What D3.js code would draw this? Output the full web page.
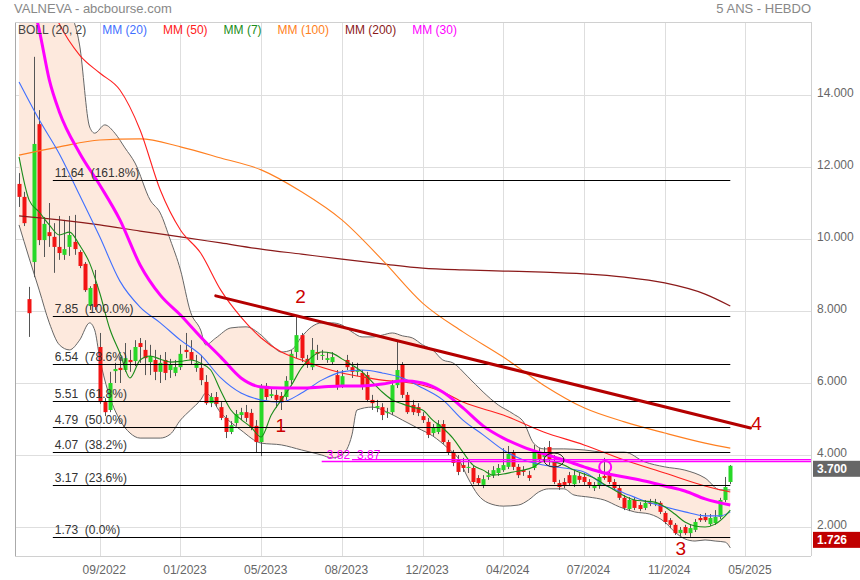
<!DOCTYPE html>
<html><head><meta charset="utf-8">
<script src="https://cdn.jsdelivr.net/npm/d3@7"></script>
<style>
body{margin:0;background:#fff;}
svg{display:block;font-family:"Liberation Sans",Arial,sans-serif;}
</style></head><body>
<svg id="c" width="860" height="580"></svg>
<script>
// ---------------- DATA (weekly candles, index 0..141) ----------------
const opens = [11.53,11.17,8.33,9.36,13.19,9.97,10.19,10.06,9.78,9.56,9.78,9.92,9.64,9.31,8.14,8.75,7.0,5.47,5.25,6.33,6.42,6.36,6.64,6.61,7.11,6.92,6.58,6.64,6.31,6.64,6.36,6.28,6.44,6.92,6.86,6.42,6.42,6.03,5.44,5.61,5.33,5.03,4.64,4.89,5.11,5.19,5.17,4.81,4.36,5.92,5.64,5.67,5.64,5.61,6.08,6.86,7.33,6.67,6.44,6.86,6.75,6.64,6.58,6.22,5.94,6.64,6.44,6.31,6.28,6.22,5.53,5.31,5.33,5.17,5.19,5.94,6.5,5.67,5.39,5.33,5.08,4.92,4.61,4.64,4.86,4.36,4.06,3.86,3.72,3.64,3.64,3.36,3.17,3.39,3.44,3.5,3.58,3.67,4.06,3.67,3.58,3.44,3.64,4.06,3.94,4.22,3.81,3.22,3.25,3.44,3.19,3.42,3.39,3.25,3.08,3.14,3.42,3.44,3.25,3.08,2.81,2.5,2.75,2.61,2.53,2.67,2.64,2.67,2.39,2.19,2.06,1.83,2.0,1.83,1.92,2.25,2.28,2.08,2.11,2.28,2.75,3.25];
const closes = [11.17,10.44,7.94,12.64,9.97,10.42,10.08,9.78,9.61,9.72,10.11,9.72,9.25,8.58,8.64,8.11,5.47,5.19,6.0,6.39,6.36,6.69,6.58,7.0,7.0,6.69,6.75,6.31,6.56,6.28,6.5,6.44,6.81,6.86,6.64,6.56,6.08,5.44,5.61,5.42,5.03,4.64,4.83,5.14,5.19,5.03,4.78,4.36,5.92,5.61,5.69,5.53,5.5,6.06,6.81,7.33,6.69,6.5,6.92,6.81,6.78,6.69,6.72,5.94,6.19,6.44,6.31,6.36,5.89,5.53,5.44,5.36,5.11,5.19,5.94,6.36,5.67,5.19,5.19,5.17,4.97,4.56,4.75,4.86,4.36,4.06,3.78,3.53,3.64,3.67,3.25,3.22,3.33,3.44,3.58,3.64,3.72,4.03,3.67,3.44,3.53,3.36,4.06,3.89,4.06,3.86,3.25,3.11,3.17,3.22,3.44,3.31,3.25,3.17,3.14,3.39,3.36,3.25,3.08,2.81,2.53,2.75,2.53,2.5,2.67,2.64,2.67,2.42,2.14,2.06,1.83,1.92,1.83,1.97,2.14,2.19,2.19,2.25,2.28,2.75,3.11,3.70];
const highs = [11.83,11.31,8.67,15.06,13.58,10.61,11.0,10.44,10.64,10.53,10.64,10.67,9.69,9.36,8.69,9.14,7.39,5.58,6.31,6.56,6.72,7.11,6.92,7.19,7.25,7.19,7.06,6.92,6.78,6.86,6.67,6.64,7.06,7.39,7.19,6.78,6.78,6.22,5.72,5.75,5.47,5.11,4.94,5.25,5.31,5.39,5.28,4.97,5.97,6.0,5.86,5.81,5.75,6.19,6.92,7.89,7.39,6.78,7.25,7.06,6.92,6.86,6.86,6.36,6.36,6.78,6.58,6.56,6.36,6.31,5.67,5.53,5.44,5.31,6.08,7.17,6.58,5.75,5.53,5.44,5.19,5.03,4.86,4.97,4.97,4.42,4.14,4.0,3.92,3.86,3.72,3.44,3.44,3.58,3.69,3.75,4.19,4.25,4.14,3.75,3.69,3.56,4.28,4.19,4.22,4.39,4.0,3.31,3.36,3.53,3.58,3.53,3.5,3.33,3.25,3.47,3.92,3.53,3.33,3.17,2.89,2.83,2.83,2.69,2.75,2.78,2.78,2.72,2.44,2.25,2.11,2.0,2.06,2.08,2.22,2.36,2.39,2.36,2.47,2.81,3.39,3.72];
const lows = [10.89,10.36,7.28,8.94,9.83,9.5,9.78,9.06,9.42,9.42,9.53,9.56,9.19,8.53,8.03,8.03,5.42,5.08,5.19,6.0,6.0,6.31,6.31,6.47,6.56,6.22,6.22,6.08,6.0,6.08,6.14,6.19,6.36,6.69,6.5,6.31,5.94,5.39,5.33,5.33,4.97,4.47,4.58,4.81,4.97,4.92,4.69,4.06,3.97,5.53,5.58,5.31,5.25,5.53,5.97,6.69,6.58,6.42,6.36,6.64,6.64,6.56,6.5,5.81,5.86,6.36,6.14,6.19,5.81,5.47,5.25,5.19,4.97,5.03,5.11,5.86,5.58,5.14,5.11,5.08,4.89,4.47,4.53,4.58,4.31,4.0,3.69,3.44,3.53,3.5,3.19,3.14,3.08,3.31,3.36,3.42,3.53,3.61,3.58,3.36,3.42,3.28,3.58,3.81,3.81,3.72,3.19,3.03,3.08,3.14,3.11,3.22,3.17,3.08,3.0,3.06,3.31,3.19,3.03,2.75,2.47,2.44,2.47,2.44,2.47,2.58,2.58,2.36,2.08,1.97,1.78,1.75,1.78,1.726,1.86,2.14,2.14,2.03,2.06,2.22,2.69,3.19];

// moving averages / bands (candle index, price)
const mm200Idx = [0,8,16,24,32,40,48,56,64,72,80,88,96,104,112,120,128,136,141];
const mm200Val = [10.64,10.53,10.39,10.22,10.06,9.89,9.72,9.58,9.44,9.31,9.19,9.14,9.11,9.08,9.03,8.94,8.78,8.47,8.14];
const mm100Idx = [0,8,16,24,32,40,48,56,64,72,80,88,96,104,112,120,128,136,141];
const mm100Val = [12.33,12.56,12.75,12.78,12.56,12.25,11.92,11.31,10.53,9.42,8.22,7.42,6.72,5.94,5.31,4.92,4.61,4.33,4.19];
const mm50Idx = [6,8,12,16,20,24,28,32,36,40,44,48,52,56,60,64,68,72,76,80,84,88,96,104,112,120,128,136,141];
const mm50Val = [16.6,15.97,15.11,14.61,14.14,13.03,11.36,10.25,9.61,8.58,7.83,7.25,6.86,6.64,6.44,6.28,6.17,6.08,6.03,5.94,5.75,5.47,5.11,4.64,4.28,3.86,3.5,3.14,2.97];
const mm30Idx = [3,4,6,8,12,16,20,24,28,32,36,40,44,48,52,56,60,64,68,72,76,80,84,88,92,96,100,104,108,112,116,120,124,128,132,136,141];
const mm30Val = [16.4,15.81,14.42,13.53,12.39,11.5,10.53,9.28,8.44,7.89,7.28,6.72,6.14,5.89,5.86,5.86,5.89,5.92,5.92,5.97,6.06,6.0,5.75,5.31,4.81,4.47,4.22,4.03,3.86,3.67,3.5,3.39,3.28,3.14,3.0,2.78,2.61];
const mm20Idx = [0,4,8,12,16,20,24,28,32,36,40,44,48,52,56,60,64,68,72,76,80,84,88,92,96,100,104,108,112,116,120,124,128,132,136,139,141];
const mm20Val = [14.36,13.31,12.36,11.22,10.06,8.83,8.11,7.67,7.19,6.78,6.14,5.72,5.53,5.47,5.72,6.08,6.31,6.36,6.28,6.14,5.86,5.53,4.97,4.56,4.14,3.86,3.72,3.64,3.53,3.17,2.94,2.72,2.56,2.42,2.31,2.31,2.42];
const mm7Idx = [0,2,4,6,8,10,12,14,16,18,20,22,24,26,28,30,32,34,36,38,40,42,44,46,48,50,52,54,56,58,60,62,64,66,68,70,72,74,76,78,80,82,84,86,88,90,92,94,96,98,100,102,104,106,108,110,112,114,116,118,120,122,124,126,128,130,132,134,136,138,140,141];
const mm7Val = [12.28,11.08,10.75,10.39,10.11,10.19,9.83,9.33,8.5,7.5,6.83,6.14,6.64,6.75,6.66,6.58,6.6,6.64,6.55,6.36,5.78,5.25,4.99,4.77,4.5,5.11,5.53,5.94,6.42,6.72,6.86,6.83,6.67,6.5,6.31,6.03,5.75,5.53,5.42,5.33,5.25,4.97,4.75,4.47,4.08,3.72,3.58,3.44,3.47,3.53,3.58,3.67,3.83,3.81,3.72,3.58,3.47,3.36,3.19,3.03,2.86,2.75,2.72,2.69,2.56,2.36,2.14,2.03,2.0,2.08,2.31,2.47];
const bbUpIdx = [0,6,10,12,14,15,17,19,21,23,26,28,30,32,34,36,37,39,42,45,48,50,52,54,56,58,60,62,64,66,68,70,72,74,76,78,80,82,84,86,89,92,95,98,100,102,104,108,112,116,120,124,128,132,136,139,141];
const bbUpVal = [18.0,17.5,16.4,15.39,13.11,12.94,13.17,12.94,12.53,12.11,11.08,10.72,9.97,9.14,7.97,7.47,7.06,7.25,7.53,7.56,7.33,7.06,6.86,6.92,7.28,7.56,7.67,7.67,7.61,7.42,7.28,7.28,7.33,7.39,7.31,7.25,7.06,6.92,6.64,6.56,6.17,5.75,5.39,5.14,4.92,4.33,4.17,4.17,4.14,4.08,4.08,3.81,3.67,3.58,3.36,3.03,3.03];
const bbLoIdx = [0,2,4,6,8,10,12,14,15,16,18,20,22,24,28,30,32,34,36,37,40,44,48,52,56,60,62,64,66,67,70,73,76,79,82,85,87,89,91,93,96,99,101,103,105,108,110,113,116,119,122,125,128,130,132,134,136,138,140,141];
const bbLoVal = [10.39,9.47,8.58,7.67,7.06,6.92,7.19,7.67,7.47,6.69,5.61,4.97,4.61,4.47,4.47,4.58,4.97,5.25,5.53,5.72,5.17,4.69,4.33,4.28,4.14,4.0,3.92,4.0,4.56,5.25,5.33,5.19,4.97,4.75,4.53,4.19,3.92,3.36,2.89,2.67,2.58,2.61,2.75,2.97,3.06,3.06,2.89,2.83,2.75,2.56,2.42,2.36,2.14,1.86,1.67,1.61,1.64,1.61,1.58,1.42];

// Fibonacci retracement levels
const fibLevels = [11.64,7.85,6.54,5.51,4.79,4.07,3.17,1.73];
const fibLabels = ["11.64  (161.8%)","7.85  (100.0%)","6.54  (78.6%)","5.51  (61.8%)","4.79  (50.0%)","4.07  (38.2%)","3.17  (23.6%)","1.73  (0.0%)"];
// trend line 2 -> 4
const trendIdx = [39,145];
const trendVal = [8.42,4.75];
// magenta horizontal levels
const levelVals = [3.82,3.87];
const levelFromIdx = [60,66];
const levelLabels = ["3.82","3.87"];
// wave annotations
const annotText = ["1","2","3","4"];
const annotIdx = [51.9,55.8,131.2,146.2];
const annotVal = [4.64,8.22,1.22,4.69];
// axes
const yTicks = [2,4,6,8,10,12,14];
const tickIdx = [16,32,48,64,80,96,112,128,144];
const tickLabels = ["09/2022","01/2023","05/2023","08/2023","12/2023","04/2024","07/2024","11/2024","05/2025"];
const lastPrice = 3.70;
const lowPrice = 1.726;
const legendNames = ["BOLL (20, 2)","MM (20)","MM (50)","MM (7)","MM (100)","MM (200)","MM (30)"];
const legendColors = ["#444444","#3f6fff","#ff2020","#1a8c1a","#ff7f20","#8b1a1a","#ff00ff"];

// ---------------- DRAWING ----------------
const L=15,R=811,T=22,B=556;
const x=d3.scaleLinear().domain([0,141]).range([19.04,730.3]);
const y=d3.scaleLinear().domain([2,14]).range([527,95]);
const svg=d3.select("#c");
const defs=svg.append("defs");
defs.append("clipPath").attr("id","plotClip").append("rect")
  .attr("x",L).attr("y",T).attr("width",R-L).attr("height",B-T);

svg.append("rect").attr("width",860).attr("height",580).attr("fill","#fff");

// grid
const grid=svg.append("g");
grid.selectAll(".gh").data(yTicks).enter().append("line")
  .attr("x1",L).attr("x2",R)
  .attr("y1",d=>Math.round(y(d))+0.5).attr("y2",d=>Math.round(y(d))+0.5)
  .attr("stroke","#dedede");
grid.selectAll(".gv").data(tickIdx).enter().append("line")
  .attr("y1",T).attr("y2",B)
  .attr("x1",d=>Math.round(x(d))+0.5).attr("x2",d=>Math.round(x(d))+0.5)
  .attr("stroke","#dedede");

const g=svg.append("g").attr("clip-path","url(#plotClip)");

// Bollinger fill
const upPts=bbUpIdx.map((d,i)=>[x(d),y(bbUpVal[i])]);
const loPts=bbLoIdx.map((d,i)=>[x(d),y(bbLoVal[i])]);
defs.append("clipPath").attr("id","aboveLower").append("path")
  .attr("d",d3.area().x(d=>d[0]).y0(0).y1(d=>d[1]).curve(d3.curveMonotoneX)(loPts));
g.append("path")
  .attr("d",d3.area().x(d=>d[0]).y0(d=>d[1]).y1(700).curve(d3.curveMonotoneX)(upPts))
  .attr("fill","#fde9dd").attr("clip-path","url(#aboveLower)");
const lineGen=d3.line().x(d=>d[0]).y(d=>d[1]).curve(d3.curveMonotoneX);
g.append("path").attr("d",lineGen(upPts)).attr("fill","none").attr("stroke","#666").attr("stroke-width",1);
g.append("path").attr("d",lineGen(loPts)).attr("fill","none").attr("stroke","#666").attr("stroke-width",1);

// candles
const candles=d3.range(opens.length).map(i=>({i,o:opens[i],c:closes[i],h:highs[i],l:lows[i]}));
g.selectAll(".wick").data(candles).enter().append("line")
  .attr("x1",d=>Math.round(x(d.i))+0.5).attr("x2",d=>Math.round(x(d.i))+0.5)
  .attr("y1",d=>y(Math.max(d.h,d.o,d.c))).attr("y2",d=>y(Math.min(d.l,d.o,d.c)))
  .attr("stroke","#555").attr("stroke-width",1);
g.selectAll(".body").data(candles).enter().append("rect")
  .attr("x",d=>Math.round(x(d.i))-1.5).attr("width",4)
  .attr("y",d=>y(Math.max(d.o,d.c)))
  .attr("height",d=>Math.max(1,Math.abs(y(d.o)-y(d.c))))
  .attr("fill",d=>d.c>=d.o?"#27d827":"#f21414");

// moving averages
function drawMA(idx,vals,color,w){
  const pts=idx.map((d,i)=>[x(d),y(vals[i])]);
  g.append("path").attr("d",lineGen(pts)).attr("fill","none")
   .attr("stroke",color).attr("stroke-width",w).attr("stroke-linejoin","round");
}
drawMA(mm200Idx,mm200Val,"#8b1a1a",1.2);
drawMA(mm100Idx,mm100Val,"#ff7f20",1.1);
drawMA(mm50Idx,mm50Val,"#ff2020",1.1);
drawMA(mm20Idx,mm20Val,"#3f6fff",1.1);
drawMA(mm7Idx,mm7Val,"#1a8c1a",1.1);
drawMA(mm30Idx,mm30Val,"#ff00ff",3);

// Fibonacci lines
const fib=g.append("g");
fib.selectAll("line").data(fibLevels).enter().append("line")
  .attr("x1",x(6.7)).attr("x2",x(141))
  .attr("y1",d=>Math.round(y(d))+0.5).attr("y2",d=>Math.round(y(d))+0.5)
  .attr("stroke","#000").attr("stroke-width",1);
fib.selectAll("text").data(fibLevels).enter().append("text")
  .attr("x",x(7.1)).attr("y",d=>y(d)-3)
  .style("white-space","pre").attr("font-size",12).attr("fill","#333")
  .text((d,i)=>fibLabels[i]);

// trend line
g.append("line")
  .attr("x1",x(trendIdx[0])).attr("y1",y(trendVal[0]))
  .attr("x2",x(trendIdx[1])).attr("y2",y(trendVal[1]))
  .attr("stroke","#b40000").attr("stroke-width",3).attr("stroke-linecap","round");

// magenta levels
g.selectAll(".lvl").data(levelVals).enter().append("line")
  .attr("x1",(d,i)=>x(levelFromIdx[i])).attr("x2",R)
  .attr("y1",d=>y(d)).attr("y2",d=>y(d))
  .attr("stroke","#ff00ff").attr("stroke-width",1.3);
g.selectAll(".lvlt").data(levelVals).enter().append("text")
  .attr("x",(d,i)=>x(levelFromIdx[i]+1)).attr("y",y(3.87)-1)
  .attr("font-size",12).attr("fill","#ff00ff")
  .text((d,i)=>levelLabels[i]);

// circles
g.append("ellipse").attr("cx",x(106.05)).attr("cy",y(3.86)).attr("rx",10).attr("ry",7)
  .attr("fill","none").attr("stroke","#222").attr("stroke-width",1);
g.append("circle").attr("cx",x(116.2)).attr("cy",y(3.67)).attr("r",6)
  .attr("fill","none").attr("stroke","#ff00ff").attr("stroke-width",2);

// wave numbers
svg.selectAll(".ann").data(annotText).enter().append("text")
  .attr("x",(d,i)=>x(annotIdx[i])).attr("y",(d,i)=>y(annotVal[i]))
  .attr("text-anchor","middle").attr("font-size",19).attr("fill","#cc0000")
  .text(d=>d);

// frame
svg.append("line").attr("x1",L+0.5).attr("x2",L+0.5).attr("y1",T).attr("y2",B).attr("stroke","#aaa");
svg.append("line").attr("x1",R+0.5).attr("x2",R+0.5).attr("y1",T).attr("y2",B).attr("stroke","#d0d0d0");
svg.append("line").attr("x1",L).attr("x2",R).attr("y1",T+0.5).attr("y2",T+0.5).attr("stroke","#d0d0d0");
svg.append("line").attr("x1",L).attr("x2",R).attr("y1",B+0.5).attr("y2",B+0.5).attr("stroke","#d0d0d0");

// axes
const yAxis=svg.append("g").attr("transform",`translate(${R},0)`)
  .call(d3.axisRight(y).tickValues(yTicks).tickFormat(d3.format(".3f")).tickSize(0).tickPadding(6));
yAxis.select(".domain").remove();
yAxis.selectAll("text").attr("font-size",12).attr("fill","#666").attr("font-family","Liberation Sans, Arial, sans-serif")
  .attr("transform","translate(0,-2)");
const xAxis=svg.append("g").attr("transform",`translate(0,${B})`)
  .call(d3.axisBottom(x).tickValues(tickIdx).tickFormat((d,i)=>tickLabels[i]).tickSize(0).tickPadding(9.5));
xAxis.select(".domain").remove();
xAxis.selectAll("text").attr("font-size",12).attr("fill","#666").attr("font-family","Liberation Sans, Arial, sans-serif")
  .attr("transform","translate(4,0)");

// price tags
function tag(v,color){
  svg.append("rect").attr("x",R+2).attr("y",y(v)-5).attr("width",47).attr("height",16).attr("fill",color);
  svg.append("text").attr("x",R+6).attr("y",y(v)+7.5).attr("font-size",12).attr("font-weight","bold")
    .attr("fill","#fff").text(d3.format(".3f")(v));
}
tag(lastPrice,"#666666");
tag(lowPrice,"#c00000");

// title
svg.append("text").attr("x",14).attr("y",13).attr("font-size",13).attr("fill","#888").text("VALNEVA - abcbourse.com");
svg.append("text").attr("x",R).attr("y",13).attr("text-anchor","end").attr("font-size",13).attr("fill","#888").text("5 ANS - HEBDO");

// legend
let lx=18;
legendNames.forEach((n,i)=>{
  const t=svg.append("text").attr("x",lx).attr("y",34).attr("font-size",12).attr("fill",legendColors[i]).text(n);
  lx+=t.node().getComputedTextLength()+16;
});
</script>
</body></html>
